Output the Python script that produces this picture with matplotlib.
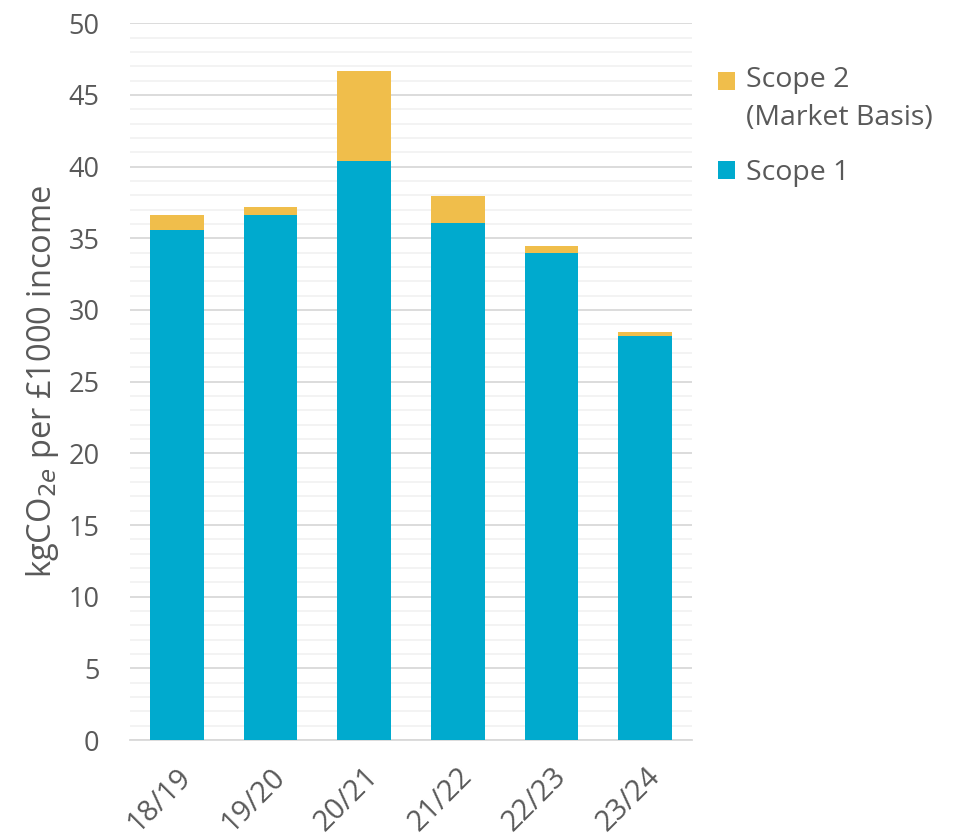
import matplotlib
matplotlib.use("Agg")
import matplotlib.pyplot as plt
from matplotlib.ticker import MultipleLocator
from matplotlib.legend_handler import HandlerPatch, update_from_first_child

years = ["18/19", "19/20", "20/21", "21/22", "22/23", "23/24"]
scope1 = [35.55, 36.6, 40.4, 36.1, 34.0, 28.2]
scope2 = [1.05, 0.6, 6.3, 1.85, 0.45, 0.27]

teal = "#00AACE"
gold = "#F0BE4B"
text_col = "#595959"

plt.rcParams["font.family"] = ["Open Sans", "DejaVu Sans"]


class TopAlignedPatch(HandlerPatch):
    """Legend swatch lifted to sit beside the first line of a two-line label."""

    def __init__(self, lift, **kw):
        super().__init__(update_func=update_from_first_child, **kw)
        self.lift = lift

    def create_artists(self, legend, orig_handle, xdescent, ydescent,
                       width, height, fontsize, trans):
        arts = super().create_artists(legend, orig_handle, xdescent, ydescent,
                                      width, height, fontsize, trans)
        for a in arts:
            a.set_y(a.get_y() + self.lift)
        return arts


fig = plt.figure(figsize=(9.58, 8.38), dpi=100)
ax = fig.add_axes([0.1357, 0.1169, 0.5866, 0.8553])

x = range(len(years))
b1 = ax.bar(x, scope1, width=0.575, color=teal, zorder=3, label="Scope 1")
b2 = ax.bar(x, scope2, width=0.575, bottom=scope1, color=gold, zorder=3,
            label="Scope 2\n(Market Basis)")

ax.set_xlim(-0.5, len(years) - 0.5)
ax.set_ylim(0, 50)
ax.yaxis.set_major_locator(MultipleLocator(5))
ax.yaxis.set_minor_locator(MultipleLocator(1))
ax.grid(axis="y", which="major", color="#D9D9D9", linewidth=1.3, zorder=0)
ax.grid(axis="y", which="minor", color="#F2F2F2", linewidth=1.3, zorder=0)
for s in ["top", "right", "left"]:
    ax.spines[s].set_visible(False)
ax.spines["bottom"].set_color("#D9D9D9")
ax.spines["bottom"].set_linewidth(1.3)

ax.tick_params(axis="both", which="both", length=0, colors=text_col)
ax.tick_params(axis="y", labelsize=19.5, pad=22)
ax.set_xticks(list(x))
ax.set_xticklabels(years, rotation=45, ha="right", rotation_mode="anchor")
ax.tick_params(axis="x", labelsize=21, pad=16)

ax.set_ylabel("kgCO$_{2e}$ per £1000 income", fontsize=23.5, color=text_col, labelpad=5)

leg = ax.legend([b2, b1], [b2.get_label(), b1.get_label()], loc="upper left",
                bbox_to_anchor=(1.046, 0.941), frameon=False, fontsize=20.5,
                borderaxespad=0, borderpad=0,
                handlelength=0.6, handleheight=0.6, handletextpad=0.38,
                labelspacing=0.95, labelcolor=text_col,
                handler_map={b2: TopAlignedPatch(lift=13.5)})
for t in leg.get_texts():
    t.set_linespacing(1.5)

fig.savefig("out.png", dpi=100, facecolor="white")
